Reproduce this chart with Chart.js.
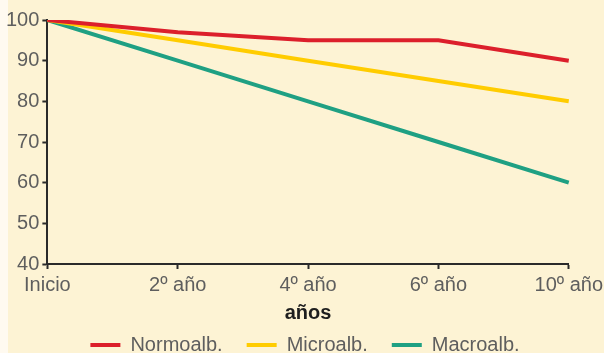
<!DOCTYPE html>
<html>
<head>
<meta charset="utf-8">
<script src="https://cdn.jsdelivr.net/npm/chart.js@4"></script>
<style>
  html, body { margin: 0; padding: 0; }
  body { width: 604px; height: 353px; background: #fdf3d4; position: relative; overflow: hidden; }
  #edge { position: absolute; left: 0; top: 0; width: 8px; height: 353px; background: #fffaf0; }
  #wrap { position: absolute; left: 3px; top: 0; width: 604px; height: 353px; }
</style>
</head>
<body>
<div id="edge"></div>
<div id="wrap"><canvas id="c" width="604" height="353"></canvas></div>
<script>
// Evolución del porcentaje por grupo a lo largo de los años
const categories = ['Inicio', '2º año', '4º año', '6º año', '10º año'];
const normoalb = [100, 97, 95, 95, 90];
const microalb = [100, 95, 90, 85, 80];
const macroalb = [100, 90, 80, 70, 60];
const yTicks = [40, 50, 60, 70, 80, 90, 100];

const FONT = '"Liberation Sans", Arial, sans-serif';
const GREY = '#5e5e5e';
const AXIS = '#2a2a2a';

// Keep the legend row tight against the bottom edge
const compactLegend = {
  id: 'compactLegend',
  beforeInit(chart) {
    const legend = chart.legend;
    if (!legend) return;
    const fit = legend.fit;
    legend.fit = function () {
      fit.call(this);
      this.height -= 12;
    };
  }
};

new Chart(document.getElementById('c'), {
  type: 'line',
  data: {
    labels: categories,
    datasets: [
      { label: 'Normoalb.', data: normoalb, borderColor: '#dc1f2b', backgroundColor: '#dc1f2b' },
      { label: 'Microalb.', data: microalb, borderColor: '#ffcc00', backgroundColor: '#ffcc00' },
      { label: 'Macroalb.', data: macroalb, borderColor: '#1fa083', backgroundColor: '#1fa083' }
    ]
  },
  plugins: [compactLegend],
  options: {
    responsive: false,
    animation: false,
    devicePixelRatio: 1,
    elements: {
      line: { borderWidth: 4, tension: 0 },
      point: { radius: 0, hoverRadius: 0 }
    },
    layout: { padding: { top: 20, right: 0, left: 0, bottom: 0 } },
    plugins: {
      tooltip: { enabled: false },
      legend: {
        position: 'bottom',
        labels: {
          font: { family: FONT, size: 20 },
          color: GREY,
          boxWidth: 30,
          boxHeight: 4,
          padding: 24,
          generateLabels(chart) {
            return chart.data.datasets.map((ds, i) => ({
              text: ds.label,
              fillStyle: ds.borderColor,
              strokeStyle: ds.borderColor,
              lineWidth: 0,
              fontColor: GREY,
              datasetIndex: i
            }));
          }
        }
      }
    },
    scales: {
      x: {
        type: 'category',
        offset: false,
        grid: { drawOnChartArea: false, drawTicks: true, tickLength: 5, tickColor: AXIS, tickWidth: 2 },
        border: { color: AXIS, width: 2 },
        ticks: { font: { family: FONT, size: 20 }, color: GREY, padding: 4, maxRotation: 0, autoSkip: false },
        title: { display: true, text: 'años', font: { family: FONT, size: 20, weight: 'bold' }, color: '#1e1e1e', padding: { top: 0, bottom: -14 } }
      },
      y: {
        min: 40,
        max: 100,
        afterBuildTicks(scale) { scale.ticks = yTicks.map(v => ({ value: v })); },
        grid: { drawOnChartArea: false, drawTicks: true, tickLength: 5, tickColor: AXIS, tickWidth: 2 },
        border: { color: AXIS, width: 2 },
        ticks: { font: { family: FONT, size: 20 }, color: GREY, padding: 3 }
      }
    }
  }
});
</script>
</body>
</html>
